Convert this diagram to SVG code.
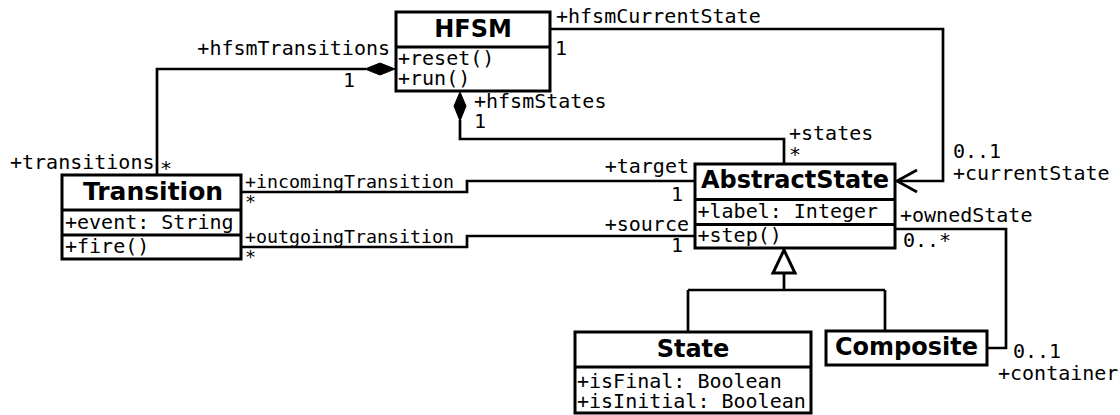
<svg xmlns="http://www.w3.org/2000/svg" width="1120" height="415" viewBox="0 0 1120 415">
<style>
.box{fill:#fff;stroke:#000;stroke-width:3}
.div{stroke:#000;stroke-width:3}
.ln{fill:none;stroke:#000;stroke-width:2.7}
.t{font-family:"DejaVu Sans","Liberation Sans",sans-serif;font-weight:bold;font-size:24px;text-anchor:middle;fill:#000}
.m{font-family:"DejaVu Sans Mono","Liberation Mono",monospace;font-size:20px;fill:#000}
.s{font-size:18.3px}
.e{text-anchor:end}
</style>
<rect width="1120" height="415" fill="#fff"/>
<g id="connectors">
  <path class="ln" d="M157,175 V69 H366"/>
  <polygon points="365,69 380,63 395,69 380,75" fill="#000" stroke="#000" stroke-width="1"/>
  <path class="ln" d="M460,120 V139 H784 V164"/>
  <polygon points="460,92 466,106 460,121 454,106" fill="#000" stroke="#000" stroke-width="1"/>
  <path class="ln" d="M550,29 H943 V181 H897"/>
  <polyline class="ln" points="917,170 897,181 917,192"/>
  <path class="ln" d="M241,192 H467 V181 H695"/>
  <path class="ln" d="M241,247 H467 V236 H695"/>
  <path class="ln" d="M784,273 V290 M688,290 H885 M688,290 V332 M885,290 V331"/>
  <polygon points="784,250 773,273 795,273" fill="#fff" stroke="#000" stroke-width="3" stroke-linejoin="miter"/>
  <path class="ln" d="M895,229 H1006 V348 H987"/>
  <text class="m e" x="390" y="55">+hfsmTransitions</text>
  <text class="m" x="343" y="87">1</text>
  <text class="m" x="10" y="169">+transitions</text>
  <text class="m" x="160" y="175">*</text>
  <text class="m" x="474" y="108">+hfsmStates</text>
  <text class="m" x="474" y="128">1</text>
  <text class="m" x="789" y="140">+states</text>
  <text class="m" x="789" y="161">*</text>
  <text class="m" x="556" y="23">+hfsmCurrentState</text>
  <text class="m" x="555" y="55">1</text>
  <text class="m" x="953" y="158">0..1</text>
  <text class="m" x="953" y="180">+currentState</text>
  <text class="m s" x="245" y="188">+incomingTransition</text>
  <text class="m s" x="245" y="208">*</text>
  <text class="m s" x="245" y="243">+outgoingTransition</text>
  <text class="m s" x="245" y="263">*</text>
  <text class="m e" x="689" y="173">+target</text>
  <text class="m" x="671" y="201">1</text>
  <text class="m e" x="689" y="231">+source</text>
  <text class="m" x="671" y="252">1</text>
  <text class="m" x="900" y="222">+ownedState</text>
  <text class="m" x="903" y="247">0..*</text>
  <text class="m" x="1013" y="358">0..1</text>
  <text class="m" x="998" y="380">+container</text>
</g>
<g id="HFSM">
  <rect class="box" x="396" y="12" width="154" height="79"/>
  <line class="div" x1="396" y1="47" x2="550" y2="47"/>
  <text class="t" x="473" y="37">HFSM</text>
  <text class="m" x="398" y="65">+reset()</text>
  <text class="m" x="398" y="85">+run()</text>
</g>
<g id="Transition">
  <rect class="box" x="62" y="175" width="179" height="84"/>
  <line class="div" x1="62" y1="210" x2="241" y2="210"/>
  <line class="div" x1="62" y1="235" x2="241" y2="235"/>
  <text class="t" x="153" y="200" style="font-size:25px">Transition</text>
  <text class="m" x="65" y="229">+event: String</text>
  <text class="m" x="65" y="253">+fire()</text>
</g>
<g id="AbstractState">
  <rect class="box" x="695" y="164" width="200" height="84"/>
  <line class="div" x1="695" y1="199.5" x2="895" y2="199.5"/>
  <line class="div" x1="695" y1="224.5" x2="895" y2="224.5"/>
  <text class="t" x="795" y="188">AbstractState</text>
  <text class="m" x="697.5" y="218">+label: Integer</text>
  <text class="m" x="697.5" y="242">+step()</text>
</g>
<g id="State">
  <rect class="box" x="575" y="332" width="236" height="81"/>
  <line class="div" x1="575" y1="367" x2="811" y2="367"/>
  <text class="t" x="693" y="357">State</text>
  <text class="m" x="577" y="388">+isFinal: Boolean</text>
  <text class="m" x="577" y="408">+isInitial: Boolean</text>
</g>
<g id="Composite">
  <rect class="box" x="826" y="331" width="161" height="34"/>
  <text class="t" x="906.5" y="355">Composite</text>
</g>
</svg>
